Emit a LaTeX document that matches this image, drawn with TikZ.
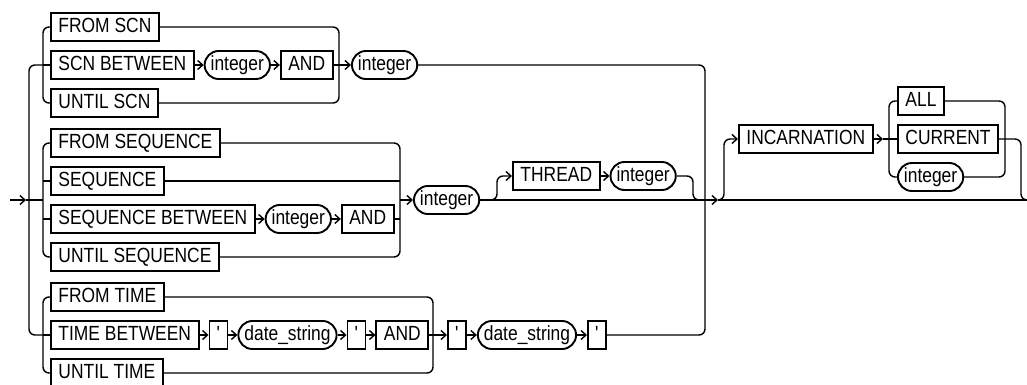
\documentclass[tikz,border=0pt]{standalone}
\usepackage{fontspec}
\setmainfont{Liberation Sans}[FakeStretch=0.85]
\usetikzlibrary{positioning,arrows.meta}

\begin{document}
\begin{tikzpicture}[x=1pt, y=-1pt, >={Straight Barb[length=5pt,width=9pt]},
    rail/.style={line width=1.4pt, rounded corners=6pt},
    kwbox/.style={draw, line width=1.9pt, anchor=west, minimum height=28pt,
        inner xsep=7.5pt, inner ysep=0pt, text height=14.7pt, text depth=4pt,
        font=\fontsize{20.5}{22}\selectfont},
    varoval/.style={kwbox, rounded corners=14pt, inner xsep=6pt},
    qbox/.style={kwbox, minimum width=18pt, inner xsep=0pt}]
    \useasboundingbox (0,0) rectangle (1027,385);
    % SCN group
    \node[kwbox] (fromscn) at (50,27) {FROM SCN};
    \node[kwbox] (scnbtw) at (50,65) {SCN BETWEEN};
    \node[varoval, right=9pt of scnbtw] (scnlow) {integer};
    \node[kwbox, right=9pt of scnlow] (scnand) {AND};
    \node[kwbox] (untilscn) at (50,103) {UNTIL SCN};
    \node[varoval] (scnnum) at (351,65) {integer};
    % SEQUENCE group
    \node[kwbox] (fromseq) at (50,143) {FROM SEQUENCE};
    \node[kwbox] (seq) at (50,181) {SEQUENCE};
    \node[kwbox] (seqbtw) at (50,219) {SEQUENCE BETWEEN};
    \node[varoval, right=9pt of seqbtw] (seqlow) {integer};
    \node[kwbox, right=9pt of seqlow] (seqand) {AND};
    \node[kwbox] (untilseq) at (50,257) {UNTIL SEQUENCE};
    \node[varoval] (seqnum) at (413,200) {integer};
    \node[kwbox] (thread) at (512,176) {THREAD};
    \node[varoval, right=9pt of thread] (thrnum) {integer};
    % TIME group
    \node[kwbox] (fromtime) at (50,297) {FROM TIME};
    \node[kwbox] (timebtw) at (50,335) {TIME BETWEEN};
    \node[qbox, right=9pt of timebtw] (tq1) {\textquotesingle};
    \node[varoval, right=9pt of tq1] (tlow) {date\_string};
    \node[qbox, right=9pt of tlow] (tq2) {\textquotesingle};
    \node[kwbox, right=9pt of tq2] (timeand) {AND};
    \node[kwbox] (untiltime) at (50,373) {UNTIL TIME};
    \node[qbox] (tq3) at (447,335) {\textquotesingle};
    \node[varoval, right=10pt of tq3] (thigh) {date\_string};
    \node[qbox, right=10pt of thigh] (tq4) {\textquotesingle};
    % INCARNATION
    \node[kwbox] (incarn) at (738,139) {INCARNATION};
    \node[kwbox] (all) at (897,101) {ALL};
    \node[kwbox] (current) at (897,139) {CURRENT};
    \node[varoval] (incnum) at (897,177) {integer};

    \coordinate (entry) at (10,200);
    \coordinate (entrytip) at (26,200);
    \coordinate (bigL) at (29,200);
    \coordinate (scnL) at (43,65);
    \coordinate (seqL) at (43,200);
    \coordinate (timeL) at (43,335);
    \coordinate (scnR) at (339,65);
    \coordinate (seqR) at (400,200);
    \coordinate (timeR) at (433,335);
    \coordinate (thrL) at (497,200);
    \coordinate (thrR) at (693,200);
    \coordinate (bigR) at (705,200);
    \coordinate (inctip) at (718,200);
    \coordinate (incL) at (724,200);
    \coordinate (chtip) at (883,139);
    \coordinate (chL) at (889,139);
    \coordinate (chR) at (1005,139);
    \coordinate (incR) at (1021,200);
    \coordinate (exit) at (1027,200);

    % left spines
    \draw[rail, ->] (entry) -- (entrytip);
    \draw[rail] (entrytip) -- (seqL);
    \draw[rail] (scnL) -| (bigL) |- (timeL);
    \draw[rail] (fromscn.west) -| (scnL) |- (untilscn.west);
    \draw[rail] (scnL) -- (scnbtw.west);
    \draw[rail] (fromseq.west) -| (seqL) |- (untilseq.west);
    \draw[rail] (seq.west) -- (seq.west -| seqL);
    \draw[rail] (seqbtw.west) -- (seqbtw.west -| seqL);
    \draw[rail] (fromtime.west) -| (timeL) |- (untiltime.west);
    \draw[rail] (timeL) -- (timebtw.west);
    % SCN rows
    \draw[rail, ->] (scnbtw) -- (scnlow);
    \draw[rail, ->] (scnlow) -- (scnand);
    \draw[rail] (fromscn.east) -| (scnR) |- (untilscn.east);
    \draw[rail] (scnand.east) -- (scnR);
    \draw[rail, ->] (scnR) -- (scnnum.west);
    \draw[rail] (scnnum.east) -| (bigR) |- (tq4.east);
    % SEQUENCE rows
    \draw[rail, ->] (seqbtw) -- (seqlow);
    \draw[rail, ->] (seqlow) -- (seqand);
    \draw[rail] (fromseq.east) -| (seqR) |- (untilseq.east);
    \draw[rail] (seq.east) -- (seq.east -| seqR);
    \draw[rail] (seqand.east) -- (seqand.east -| seqR);
    \draw[rail, ->] (seqR) -- (seqnum.west);
    \draw[rail, ->] (seqnum.east) -- (thrL) |- (thread.west);
    \draw[rail, ->] (thread) -- (thrnum);
    \draw[rail] (thrnum.east) -| (thrR) -- (bigR);
    % TIME rows
    \draw[rail, ->] (timebtw) -- (tq1);
    \draw[rail, ->] (tq1) -- (tlow);
    \draw[rail, ->] (tlow) -- (tq2);
    \draw[rail, ->] (tq2) -- (timeand);
    \draw[rail] (fromtime.east) -| (timeR) |- (untiltime.east);
    \draw[rail] (timeand.east) -- (timeR);
    \draw[rail, ->] (timeR) -- (tq3);
    \draw[rail, ->] (tq3) -- (thigh);
    \draw[rail, ->] (thigh) -- (tq4);
    % main line and INCARNATION
    \draw[rail, ->] (seqnum.east) -- (inctip);
    \draw[rail] (inctip) -- (exit);
    \draw[rail, ->] (inctip) -- (incL) |- (incarn.west);
    \draw[rail, ->] (incarn.east) -- (chtip);
    \draw[rail] (chtip) -- (current.west);
    \draw[rail] (all.west) -| (chL) |- (incnum.west);
    \draw[rail] (all.east) -| (chR) |- (incnum.east);
    \draw[rail] (current.east) -| (incR) -- (exit);
\end{tikzpicture}
\end{document}
